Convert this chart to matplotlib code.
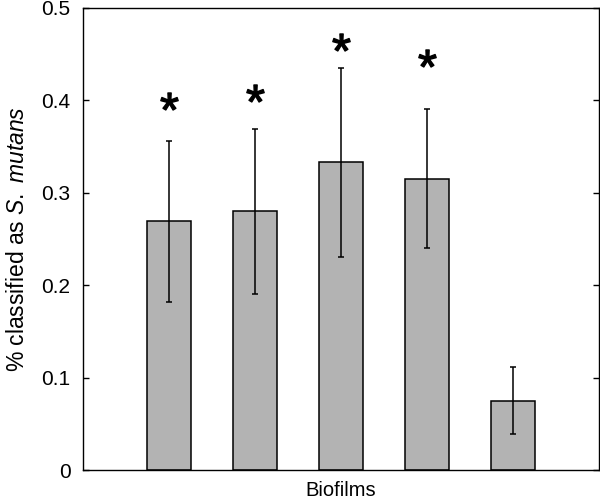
import matplotlib
matplotlib.use("Agg")
import matplotlib.pyplot as plt
import numpy as np

plt.rcParams['font.family'] = ['Liberation Sans', 'DejaVu Sans']
plt.rcParams['mathtext.fontset'] = 'custom'
plt.rcParams['mathtext.rm'] = 'Liberation Sans'
plt.rcParams['mathtext.it'] = 'Liberation Sans:italic'

# Data
positions = [1, 2, 3, 4, 5]
means = [0.269, 0.280, 0.333, 0.315, 0.075]
err_upper = [0.356, 0.369, 0.435, 0.391, 0.1115]
err_lower = [0.182, 0.190, 0.230, 0.240, 0.0386]
star_positions = [1, 2, 3, 4]
star_y = [0.399, 0.408, 0.4635, 0.4456]
yticks = [0, 0.1, 0.2, 0.3, 0.4, 0.5]
ytick_labels = ['0', '0.1', '0.2', '0.3', '0.4', '0.5']

fig = plt.figure(figsize=(6.0, 5.03), dpi=100)
ax = fig.add_axes([0.1383, 0.0656, 0.86, 0.9185])

means_a = np.array(means)
yerr = np.vstack([means_a - np.array(err_lower), np.array(err_upper) - means_a])

ax.bar(positions, means, width=0.505, color='#b3b3b3', edgecolor='black', linewidth=1.1, zorder=2)
ax.errorbar(positions, means, yerr=yerr, fmt='none', ecolor='black', elinewidth=1.1,
            capsize=2.3, capthick=1.1, zorder=3)
ax.plot(star_positions, star_y, linestyle='none', marker='$*$', markersize=12.5,
        color='black', zorder=4)

ax.set_xlim(0, 6)
ax.set_ylim(0, 0.5)
ax.set_xticks([])
ax.set_yticks(yticks)
ax.set_yticklabels(ytick_labels)
ax.tick_params(axis='y', direction='in', length=4, width=1.0, labelsize=15, pad=9,
               right=True)
for s in ax.spines.values():
    s.set_linewidth(1.0)

ax.set_xlabel('Biofilms', fontsize=14.5, labelpad=8)
ax.set_ylabel(r'% classified as $\mathit{S.\ mutans}$', fontsize=16.5, labelpad=9)

fig.savefig('out.png', dpi=100)
